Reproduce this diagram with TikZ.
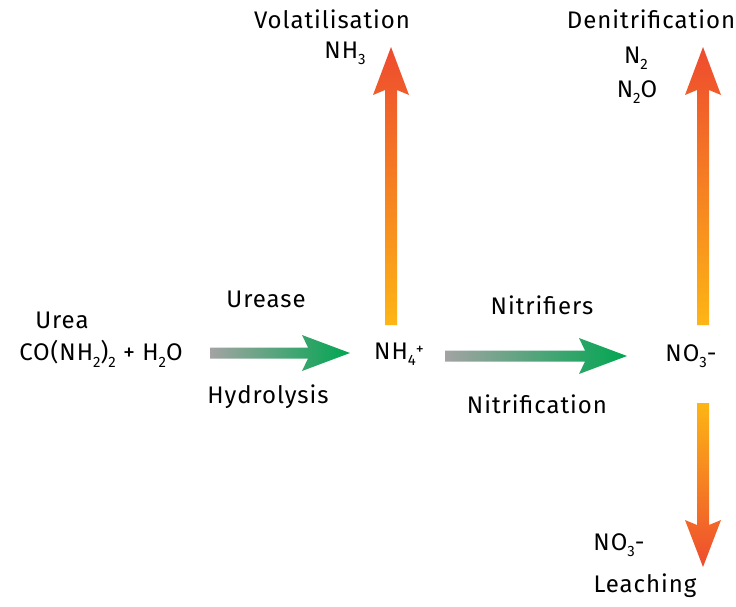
\documentclass[tikz,border=0pt]{standalone}
\usepackage{fontspec}
\setmainfont{Fira Sans}[LetterSpace=4]
\definecolor{leafgreen}{HTML}{00A651}
\definecolor{ashgray}{HTML}{A3A3A3}
\definecolor{amber}{HTML}{FDB515}
\definecolor{flame}{HTML}{EE4B2F}
\newcommand{\lowidx}[1]{\raisebox{-0.5ex}{\fontsize{15pt}{15pt}\selectfont #1}}
\tikzset{
  lbl/.style={inner sep=0pt, align=center, font=\fontsize{24pt}{28pt}\selectfont},
  hydro/.style={left color=ashgray, right color=leafgreen},
  lossup/.style={bottom color=amber, top color=flame},
  lossdown/.style={top color=amber, bottom color=flame}
}
\begin{document}
\begin{tikzpicture}[x=1pt, y=-1pt]
  \useasboundingbox (0,0) rectangle (736,606);
  % species and processes
  \node[lbl] (urea) at (62,320) {Urea};
  \node[lbl] (ureaform) at (101,354) {CO(NH\lowidx{2})\lowidx{2} + H\lowidx{2}O};
  \node[lbl] (urease) at (266,299) {Urease};
  \node[lbl] (hydrolysis) at (268,397) {Hydrolysis};
  \node[lbl] (ammonium) at (399,354) {NH\lowidx{4}\raisebox{0.35ex}{\fontsize{16pt}{16pt}\selectfont +}};
  \node[lbl] (nitrifiers) at (542,305) {Nitrifiers};
  \node[lbl] (nitrification) at (537,404) {Nitrification};
  \node[lbl] (nitrate) at (691,356) {NO\lowidx{3}-};
  \node[lbl] (volat) at (332,19) {Volatilisation};
  \node[lbl] (ammonia) at (345,53) {NH\lowidx{3}};
  \node[lbl] (denit) at (651,19) {Denitrification};
  \node[lbl] (dinitrogen) at (636,58) {N\lowidx{2}};
  \node[lbl] (nitrousox) at (637,92) {N\lowidx{2}O};
  \node[lbl] (leachion) at (619,545) {NO\lowidx{3}-};
  \node[lbl] (leach) at (645,586) {Leaching};
  % fat arrows
  \coordinate (h1) at (210,353);
  \coordinate (h2) at (445,356);
  \coordinate (v1) at (391,325);
  \coordinate (v2) at (703,325);
  \coordinate (v3) at (703,403);
  \shade[hydro] (h1) ++(0,-5.5) -- ++(98,0) -- ++(-6,-12.5) -- ++(48,18)
    -- ++(-48,18) -- ++(6,-12.5) -- ++(-98,0) -- cycle;
  \shade[hydro] (h2) ++(0,-5.5) -- ++(140,0) -- ++(-6,-12.5) -- ++(48,18)
    -- ++(-48,18) -- ++(6,-12.5) -- ++(-140,0) -- cycle;
  \shade[lossup] (v1) ++(-6,0) -- ++(0,-235) -- ++(-12,5) -- ++(18,-48)
    -- ++(18,48) -- ++(-12,-5) -- ++(0,235) -- cycle;
  \shade[lossup] (v2) ++(-6,0) -- ++(0,-235) -- ++(-12,5) -- ++(18,-48)
    -- ++(18,48) -- ++(-12,-5) -- ++(0,235) -- cycle;
  \shade[lossdown] (v3) ++(-6,0) -- ++(0,122) -- ++(-12,-5) -- ++(18,47)
    -- ++(18,-47) -- ++(-12,5) -- ++(0,-122) -- cycle;
\end{tikzpicture}
\end{document}
